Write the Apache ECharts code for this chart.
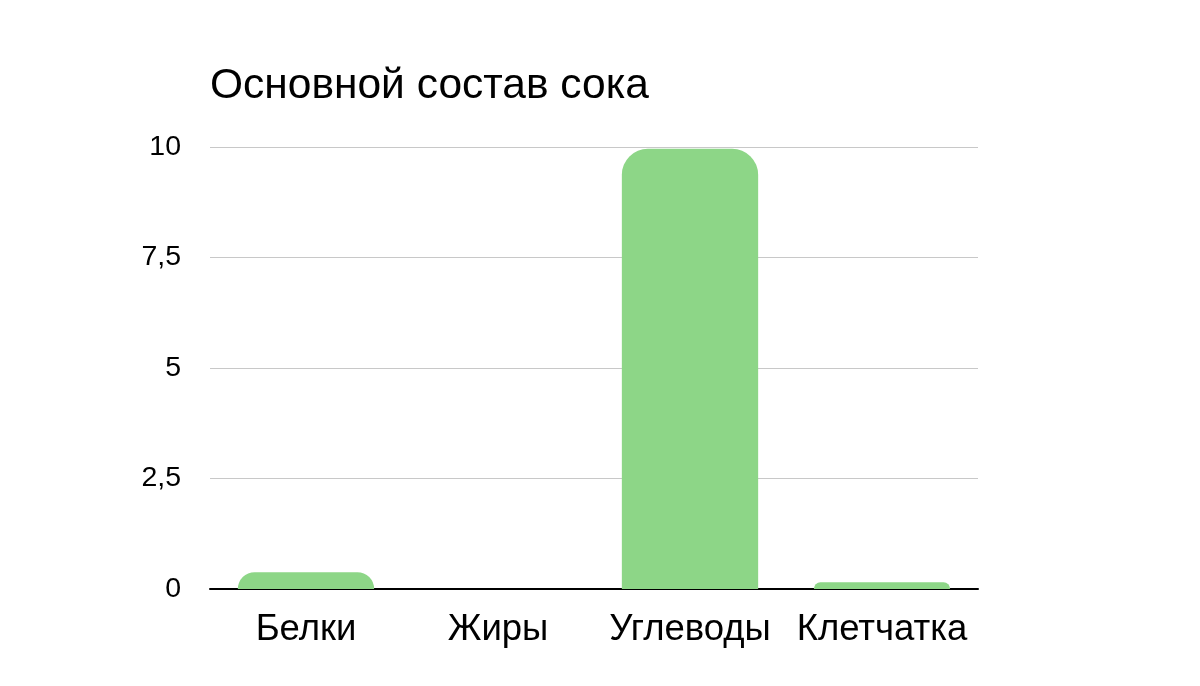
<!DOCTYPE html>
<html><head><meta charset="utf-8">
<script src="https://cdn.jsdelivr.net/npm/echarts@6/dist/echarts.min.js"></script>
<style>html,body{margin:0;padding:0;background:#fff}#c{width:1200px;height:686px}</style>
</head><body><div id="c"></div>
<script>
var categories = ['Белки', 'Жиры', 'Углеводы', 'Клетчатка'];
var values = [0.38, 0, 9.96, 0.15];
var yTicks = [0, 2.5, 5, 7.5, 10];
var chart = echarts.init(document.getElementById('c'));
chart.setOption({
  animation: false,
  title: {text: 'Основной состав сока', left: 205, top: 60,
    textStyle: {fontFamily: 'Liberation Sans, Arial', fontSize: 42.5, fontWeight: 'normal', color: '#000'}},
  grid: {left: 210, right: 222, top: 147, bottom: 97},
  xAxis: {type: 'category', data: categories,
    axisLine: {lineStyle: {color: '#000', width: 2}}, axisTick: {show: false},
    axisLabel: {interval: 0, hideOverlap: false, fontFamily: 'Liberation Sans, Arial', fontSize: 36.5, color: '#000', margin: 22}},
  yAxis: {type: 'value', min: 0, max: 10, interval: 2.5,
    axisLine: {show: false}, axisTick: {show: false},
    splitLine: {lineStyle: {color: '#c8c8c8', width: 1}},
    axisLabel: {fontFamily: 'Liberation Sans, Arial', fontSize: 28.5, color: '#000', margin: 29,
      formatter: function (v) { return yTicks.indexOf(v) >= 0 ? String(v).replace('.', ',') : ''; }}},
  series: [{type: 'bar', data: values, barWidth: '71%',
    itemStyle: {color: '#8dd687', borderRadius: [26, 26, 0, 0]}}]
});
</script></body></html>
